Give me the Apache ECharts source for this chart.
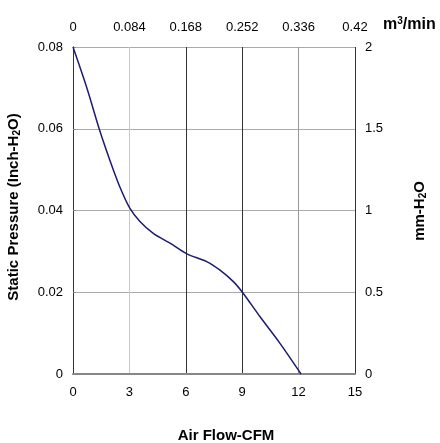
<!DOCTYPE html>
<html><head><meta charset="utf-8">
<script src="https://cdn.jsdelivr.net/npm/echarts@6/dist/echarts.min.js"></script>
<style>html,body{margin:0;padding:0;background:#fff}#c{width:440px;height:443px}</style>
</head><body><div id="c"></div>
<script>
// Data (CFM, Inch-H2O)
const flowCFM = [0, 0.73, 1.4, 1.97, 2.5, 3.03, 3.56, 4.27, 5.16, 6.05, 7.11, 7.82, 8.53, 9.01, 9.95, 11.01, 12.13];
const pressureInch = [0.08, 0.0701, 0.0599, 0.0522, 0.0457, 0.0405, 0.0373, 0.0344, 0.032, 0.0294, 0.0275, 0.0254, 0.0226, 0.02, 0.014, 0.0075, 0];
const bottomTicks = [0, 3, 6, 9, 12, 15];
const topTicks = [0, 0.084, 0.168, 0.252, 0.336, 0.42];
const leftTicks = [0, 0.02, 0.04, 0.06, 0.08];
const rightTicks = [0, 0.5, 1, 1.5, 2];

const F = '"Liberation Sans", Arial, sans-serif';
const chart = echarts.init(document.getElementById('c'));
const fmt = v => String(+v.toFixed(3));
chart.setOption({
  animation: false,
  grid: {left: 73, right: 85, top: 47, bottom: 69},
  xAxis: [
    {type: 'value', position: 'bottom', min: bottomTicks[0], max: bottomTicks[bottomTicks.length-1], interval: 3,
     axisLine: {show: true, lineStyle: {color: '#333', width: 1}}, axisTick: {show: false},
     axisLabel: {color: '#000', fontFamily: F, fontSize: 13, margin: 12, formatter: fmt},
     splitLine: {show: true, lineStyle: {color: ['#333', '#c8c8c8', '#333', '#333', '#999', '#333'], width: 1}}},
    {type: 'value', position: 'top', min: topTicks[0], max: topTicks[topTicks.length-1], interval: 0.084,
     axisLine: {show: true, lineStyle: {color: '#888', width: 2}}, axisTick: {show: false},
     axisLabel: {color: '#000', fontFamily: F, fontSize: 13, margin: 13, formatter: fmt},
     splitLine: {show: false}}
  ],
  yAxis: [
    {type: 'value', position: 'left', min: leftTicks[0], max: leftTicks[leftTicks.length-1], interval: 0.02,
     axisLine: {show: true, lineStyle: {color: '#333', width: 1}}, axisTick: {show: true, inside: true, length: 3, lineStyle: {color: '#888'}},
     axisLabel: {color: '#000', fontFamily: F, fontSize: 13, margin: 10, formatter: fmt},
     splitLine: {show: true, lineStyle: {color: '#aaa', width: 1}}},
    {type: 'value', position: 'right', min: rightTicks[0], max: rightTicks[rightTicks.length-1], interval: 0.5,
     axisLine: {show: true, lineStyle: {color: '#333', width: 1}}, axisTick: {show: false},
     axisLabel: {color: '#000', fontFamily: F, fontSize: 13, margin: 10, formatter: fmt},
     splitLine: {show: false}}
  ],
  series: [{
    type: 'line', xAxisIndex: 0, yAxisIndex: 0, smooth: 0.3, showSymbol: false,
    lineStyle: {color: '#1c1c6e', width: 1.5},
    data: flowCFM.map((x, i) => [x, pressureInch[i]])
  }],
  graphic: [
    {type: 'text', x: 226, y: 436, style: {text: 'Air Flow-CFM', font: 'bold 15px ' + F, fill: '#000', align: 'center', verticalAlign: 'middle'}},
    {type: 'text', x: 383, y: 16, style: {rich: {a: {font: 'bold 16px ' + F, fill: '#000'}, s: {font: 'bold 10px ' + F, fill: '#000', verticalAlign: 'top', padding: [0,0,8,0]}}, text: '{a|m}{s|3}{a|/min}'}},
    {type: 'text', x: 14, y: 207, rotation: Math.PI / 2, style: {align: 'center', verticalAlign: 'middle', rich: {a: {font: 'bold 15px ' + F, fill: '#000'}, s: {font: 'bold 10px ' + F, fill: '#000', padding: [7,0,0,0]}}, text: '{a|Static Pressure (Inch-H}{s|2}{a|O)}'}},
    {type: 'text', x: 420, y: 211, rotation: Math.PI / 2, style: {align: 'center', verticalAlign: 'middle', rich: {a: {font: 'bold 15px ' + F, fill: '#000'}, s: {font: 'bold 10px ' + F, fill: '#000', padding: [7,0,0,0]}}, text: '{a|mm-H}{s|2}{a|O}'}}
  ]
});
</script></body></html>
